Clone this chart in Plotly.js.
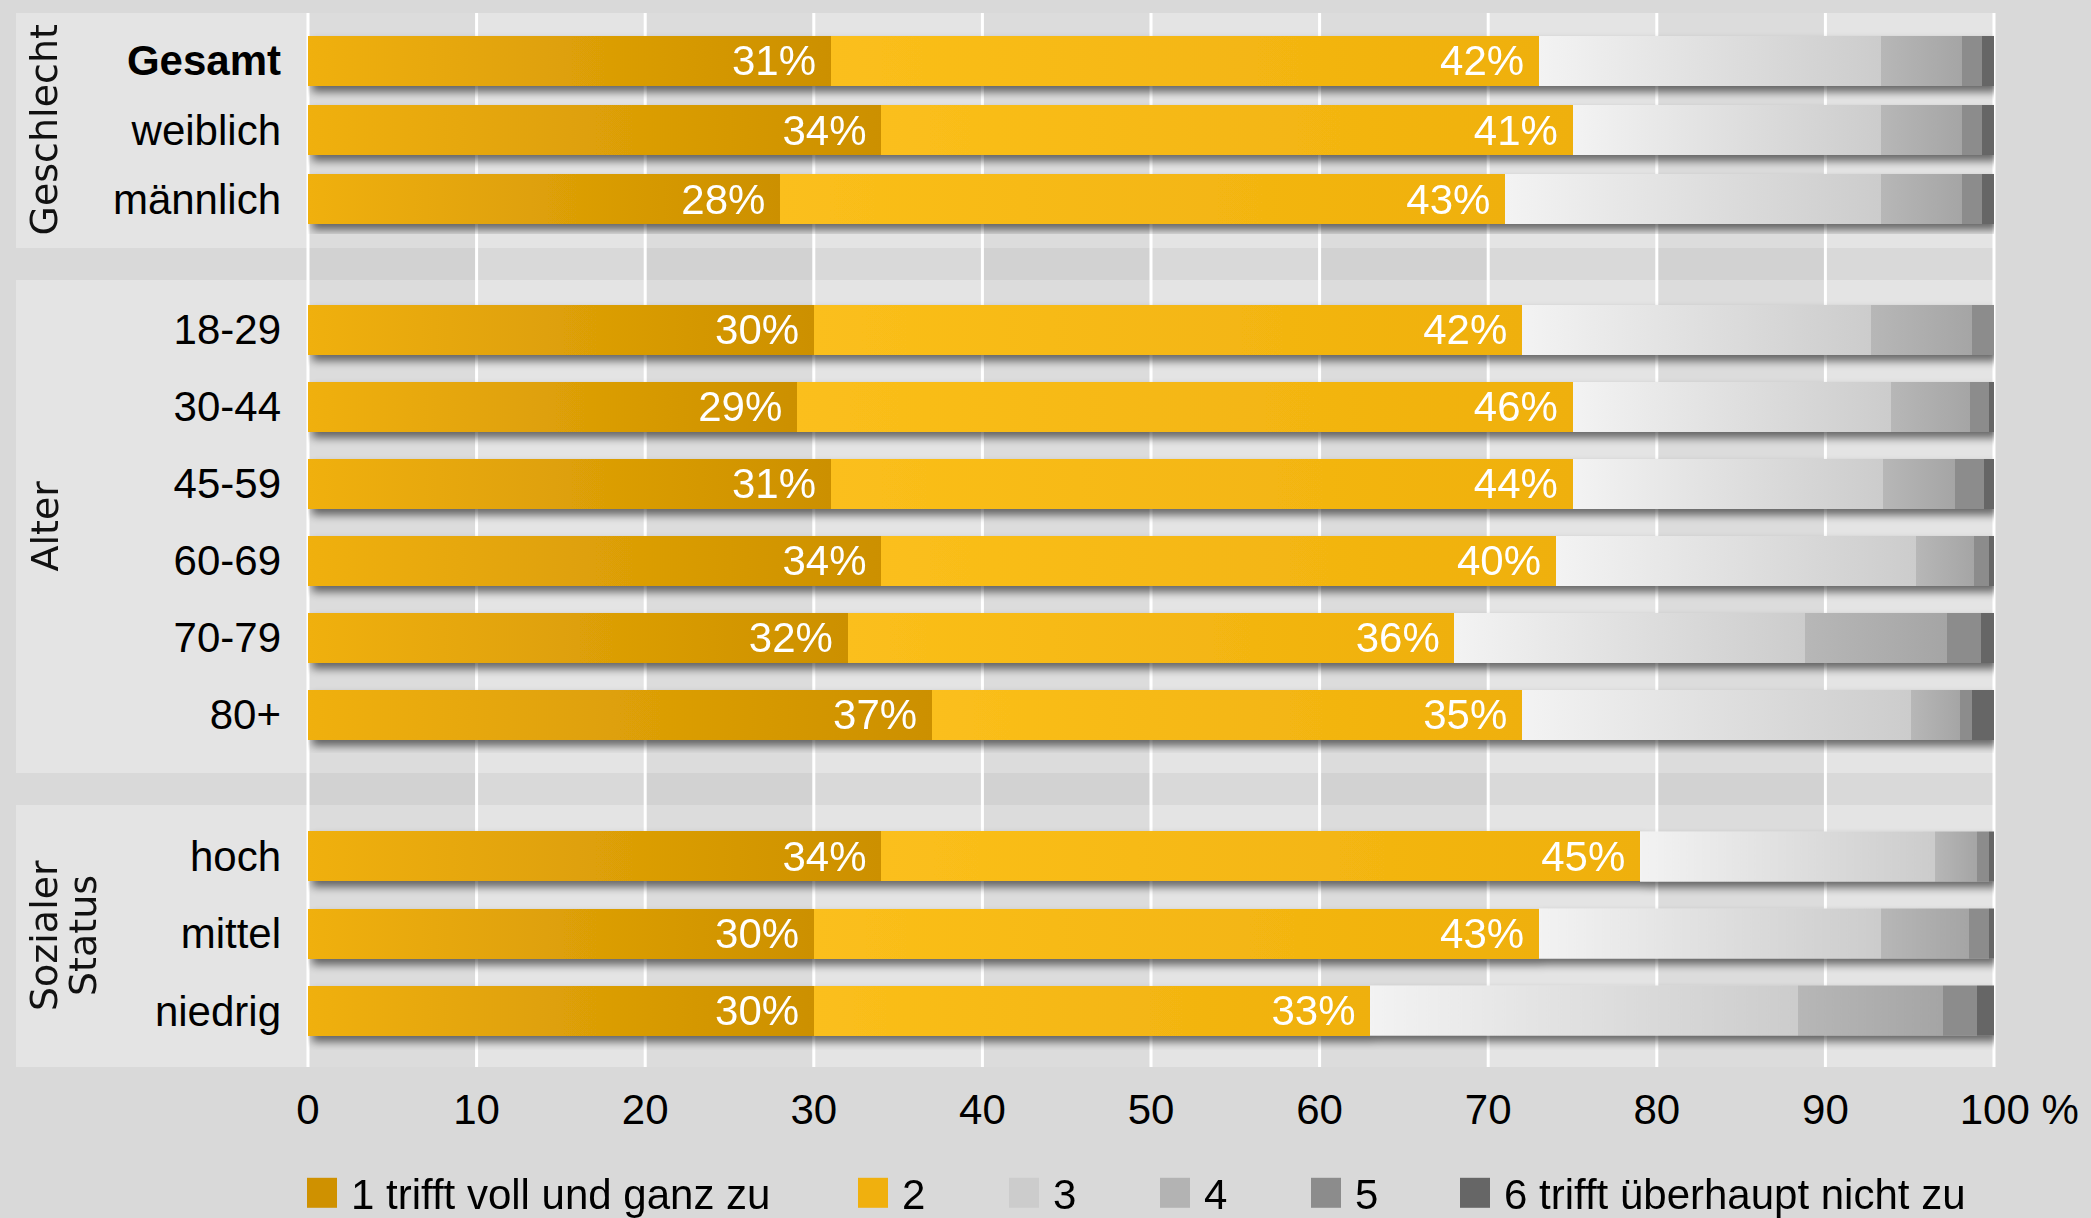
<!DOCTYPE html>
<html lang="de">
<head>
<meta charset="utf-8">
<script src="https://cdn.plot.ly/plotly-3.0.1.min.js"></script>
<style>
  html, body { margin: 0; padding: 0; background: #d9d9d9; }
  #chart { width: 2091px; height: 1218px; }
</style>
</head>
<body>
<div id="chart"></div>
<script>
// Zustimmung nach Bevölkerungsgruppen, Anteile in Prozent je Antwortstufe
const rows = ['Gesamt', 'weiblich', 'männlich', '18-29', '30-44', '45-59', '60-69', '70-79', '80+', 'hoch', 'mittel', 'niedrig'];
const groupTitles = [['Geschlecht'], ['Alter'], ['Sozialer', 'Status']];
const groupSizes = [3, 6, 3];

const stufe1 = [31, 34, 28, 30, 29, 31, 34, 32, 37, 34, 30, 30];
const stufe2 = [42, 41, 43, 42, 46, 44, 40, 36, 35, 45, 43, 33];
const stufe3 = [20.3, 18.3, 22.3, 20.7, 18.9, 18.4, 21.4, 20.8, 23.1, 17.5, 20.3, 25.4];
const stufe4 = [4.8, 4.8, 4.8, 6.0, 4.7, 4.3, 3.4, 8.4, 2.9, 2.5, 5.2, 8.6];
const stufe5 = [1.2, 1.2, 1.2, 1.3, 1.1, 1.7, 0.9, 2.0, 0.7, 0.7, 1.2, 2.0];
const stufe6 = [0.7, 0.7, 0.7, 0.0, 0.3, 0.6, 0.3, 0.8, 1.3, 0.3, 0.3, 1.0];

const stufenNamen = ['1 trifft voll und ganz zu', '2', '3', '4', '5', '6 trifft überhaupt nicht zu'];
const stufenFarben = ['#cf9100', '#f0b00e', '#cccccc', '#b3b3b3', '#8c8c8c', '#666666'];
const stufenLegende = ['legend', 'legend2', 'legend2', 'legend2', 'legend2', 'legend3'];

const xTickVals = [0, 10, 20, 30, 40, 50, 60, 70, 80, 90, 100];
const xTickText = ['0', '10', '20', '30', '40', '50', '60', '70', '80', '90', '\u2003\u2009100 %'];

// ---- Geometrie (Pixel) ----
const W = 2091, H = 1218;
const M = { l: 308, r: 97, t: 13, b: 151 };
const plotW = W - M.l - M.r, plotH = H - M.t - M.b;
const PANELS_PX = [[13, 248], [280, 773], [805, 1067]];
const ROWS_PX = [[26, 234], [291, 753], [817.5, 1049.6]];
const BAR_PX = 50;
const X_RANGE = [0, 100];

const paperY = px => (H - M.b - px) / plotH;
const paperX = px => (px - M.l) / plotW;
const valToPaper = v => (v - X_RANGE[0]) / (X_RANGE[1] - X_RANGE[0]);

const FONT = '"Liberation Sans", Arial, sans-serif';
const TITLE_FONT = '"DejaVu Sans", Verdana, sans-serif';

const stufen = [stufe1, stufe2, stufe3, stufe4, stufe5, stufe6];

// ---- Spuren: je Gruppe und Stufe eine Balkenspur ----
const traces = [];
const traceStufe = [];
let start = 0;
groupSizes.forEach((n, g) => {
  const cats = rows.slice(start, start + n);
  const axisId = g === 0 ? 'y' : 'y' + (g + 1);
  const rowPx = (ROWS_PX[g][1] - ROWS_PX[g][0]) / n;
  stufen.forEach((vals, s) => {
    const t = {
      type: 'bar',
      orientation: 'h',
      name: stufenNamen[s],
      x: vals.slice(start, start + n),
      y: cats,
      xaxis: 'x',
      yaxis: axisId,
      width: BAR_PX / rowPx,
      marker: { color: stufenFarben[s], line: { width: 0 } },
      showlegend: g === 0,
      legend: stufenLegende[s],
      hoverinfo: 'skip'
    };
    if (s < 2) {
      t.texttemplate = '%{x}%\u00a0';
      t.textposition = 'inside';
      t.insidetextanchor = 'end';
      t.textangle = 0;
      t.constraintext = 'none';
      t.insidetextfont = { family: FONT, size: 42, color: '#ffffff' };
    } else {
      t.textposition = 'none';
    }
    traceStufe.push(s);
    traces.push(t);
  });
  start += n;
});

// ---- Hintergrund: Felder, Spaltenstreifen, Gitterlinien ----
const shapes = [];
PANELS_PX.forEach(([top, bottom]) => {
  shapes.push({
    type: 'rect', xref: 'paper', yref: 'paper', layer: 'below',
    x0: paperX(16), x1: 1, y0: paperY(bottom), y1: paperY(top),
    fillcolor: '#e4e4e4', line: { width: 0 }
  });
});
for (let k = 0; k < xTickVals.length - 1; k += 2) {
  shapes.push({
    type: 'rect', xref: 'paper', yref: 'paper', layer: 'below',
    x0: valToPaper(xTickVals[k]), x1: valToPaper(xTickVals[k + 1]), y0: 0, y1: 1,
    fillcolor: 'rgba(0,0,0,0.03)', line: { width: 0 }
  });
}
xTickVals.forEach(v => {
  shapes.push({
    type: 'line', xref: 'paper', yref: 'paper', layer: 'below',
    x0: valToPaper(v), x1: valToPaper(v), y0: 0, y1: 1,
    line: { color: '#ffffff', width: 3 }
  });
});

// ---- Gruppentitel (senkrecht) ----
const annotations = [];
groupTitles.forEach((lines, g) => {
  const [top, bottom] = PANELS_PX[g];
  lines.forEach((line, i) => {
    annotations.push({
      text: line, xref: 'paper', yref: 'paper',
      x: paperX(44 + i * 39), y: paperY((top + bottom) / 2),
      xanchor: 'center', yanchor: 'middle', textangle: -90, showarrow: false,
      font: { family: TITLE_FONT, size: 38, color: '#111111' }
    });
  });
});

// ---- Achsen ----
function yAxis(g) {
  const n = groupSizes[g];
  const s0 = groupSizes.slice(0, g).reduce((a, b) => a + b, 0);
  const cats = rows.slice(s0, s0 + n);
  return {
    domain: [paperY(ROWS_PX[g][1]), paperY(ROWS_PX[g][0])],
    anchor: 'x',
    type: 'category',
    autorange: 'reversed',
    tickvals: cats,
    ticktext: cats.map(c => c === 'Gesamt' ? '<b>' + c + '</b>' : c),
    showgrid: false, zeroline: false, showline: false, ticks: '',
    ticklabelstandoff: 26,
    automargin: false,
    fixedrange: true,
    tickfont: { family: FONT, size: 42, color: '#000000' }
  };
}

const legendBase = {
  orientation: 'h', yanchor: 'middle', xanchor: 'left',
  y: paperY(1193), bgcolor: 'rgba(0,0,0,0)', borderwidth: 0,
  traceorder: 'normal', itemwidth: 48,
  font: { family: FONT, size: 42, color: '#000000' }
};

const layout = {
  width: W, height: H,
  margin: { l: M.l, r: M.r, t: M.t, b: M.b, autoexpand: false },
  paper_bgcolor: '#d9d9d9',
  plot_bgcolor: 'rgba(0,0,0,0)',
  barmode: 'stack',
  xaxis: {
    range: X_RANGE, anchor: 'free', position: 0,
    tickvals: xTickVals, ticktext: xTickText,
    showgrid: false, zeroline: false, showline: false, ticks: '',
    ticklabelstandoff: 14, automargin: false, fixedrange: true,
    tickfont: { family: FONT, size: 42, color: '#000000' }
  },
  yaxis: yAxis(0),
  yaxis2: yAxis(1),
  yaxis3: yAxis(2),
  legend: Object.assign({}, legendBase, { x: paperX(293) }),
  legend2: Object.assign({}, legendBase, { x: paperX(844), entrywidth: 88 }),
  legend3: Object.assign({}, legendBase, { x: paperX(1446) }),
  shapes: shapes,
  annotations: annotations
};

// Verläufe und Schatten der Balken
const GRADIENTS = [
  ['grad1', '#f0b00e', '#cc9000'],
  ['grad2', '#fbbf1b', '#efb00c'],
  ['grad3', '#f3f3f3', '#cccccc'],
  ['grad4', '#b7b7b7', '#a5a5a5']
];

function dressBars(gd) {
  const svg = gd.querySelector('svg.main-svg');
  let defs = svg.querySelector('defs');
  if (!defs) {
    defs = document.createElementNS('http://www.w3.org/2000/svg', 'defs');
    svg.insertBefore(defs, svg.firstChild);
  }
  let markup = '';
  GRADIENTS.forEach(([id, a, b]) => {
    markup += '<linearGradient id="' + id + '" x1="0" y1="0" x2="1" y2="0">' +
      '<stop offset="0" stop-color="' + a + '"/><stop offset="1" stop-color="' + b + '"/></linearGradient>';
  });
  markup += '<filter id="barShadow" filterUnits="userSpaceOnUse" x="-400" y="-300" width="3000" height="1800">' +
    '<feGaussianBlur in="SourceAlpha" stdDeviation="4"/>' +
    '<feOffset dx="4" dy="6" result="off"/>' +
    '<feComponentTransfer><feFuncA type="linear" slope="0.55"/></feComponentTransfer>' +
    '<feMerge><feMergeNode/><feMergeNode in="SourceGraphic"/></feMerge></filter>';
  defs.insertAdjacentHTML('beforeend', markup);

  gd.querySelectorAll('.barlayer .trace.bars').forEach(g => {
    const cd = g.__data__;
    if (!cd || !cd[0] || !cd[0].trace) return;
    const s = traceStufe[cd[0].trace.index];
    if (s < GRADIENTS.length) {
      g.querySelectorAll('.point path').forEach(p => { p.style.fill = 'url(#' + GRADIENTS[s][0] + ')'; });
    }
  });
  gd.querySelectorAll('.barlayer').forEach(b => b.setAttribute('filter', 'url(#barShadow)'));
  gd.querySelectorAll('.legendpoints path').forEach(p => p.setAttribute('d', 'M15,15H-15V-15H15Z'));
}

Plotly.newPlot('chart', traces, layout, { staticPlot: true, displayModeBar: false })
  .then(dressBars);
</script>
</body>
</html>
